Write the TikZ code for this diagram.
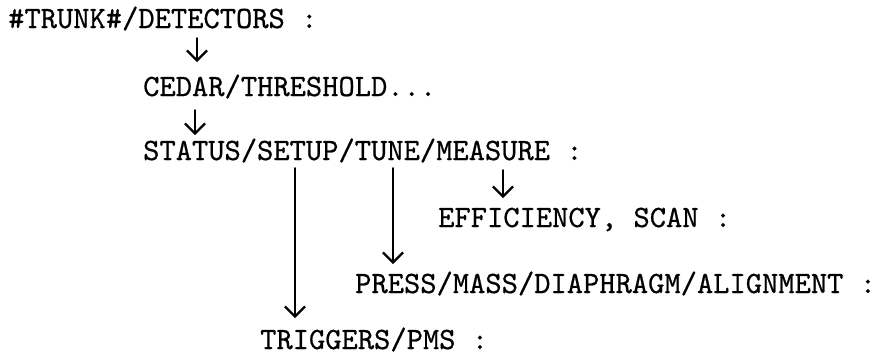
\documentclass[tikz,border=0pt]{standalone}
\usepackage{fontspec}
\newfontfamily\typewriter[Extension=.otf, FakeBold=0.6]{lmmono10-regular}
\usetikzlibrary{arrows.meta}
\begin{document}
\begin{tikzpicture}[x=1pt,y=-1pt,
  lbl/.style={anchor=base west, inner sep=0pt, font=\typewriter\fontsize{31}{31}\selectfont},
  arr/.style={line width=1.8pt, line cap=round, -{Straight Barb[length=10pt,width=20pt,line width=2.2pt]}}
]
\useasboundingbox (0,0) rectangle (880,360);
\node[lbl] (l1) at (8,28) {\#TRUNK\#/DETECTORS :};
\node[lbl] (l2) at (143,96) {CEDAR/THRESHOLD...};
\node[lbl] (l3) at (143,160) {STATUS/SETUP/TUNE/MEASURE :};
\node[lbl] (l4) at (438,227) {EFFICIENCY, SCAN :};
\node[lbl] (l5) at (355,293) {PRESS/MASS/DIAPHRAGM/ALIGNMENT :};
\node[lbl] (l6) at (260,349) {TRIGGERS/PMS :};
\coordinate (a1s) at (197,38);
\coordinate (a1e) at (197,62);
\coordinate (a2s) at (195,110);
\coordinate (a2e) at (195,135);
\coordinate (b1s) at (295,168);
\coordinate (b1e) at (295,318);
\coordinate (b2s) at (393,168);
\coordinate (b2e) at (393,264);
\coordinate (b3s) at (503,170);
\coordinate (b3e) at (503,198);
\draw[arr] (a1s) -- (a1e);
\draw[arr] (a2s) -- (a2e);
\draw[arr] (b1s) -- (b1e);
\draw[arr] (b2s) -- (b2e);
\draw[arr] (b3s) -- (b3e);
\end{tikzpicture}
\end{document}
